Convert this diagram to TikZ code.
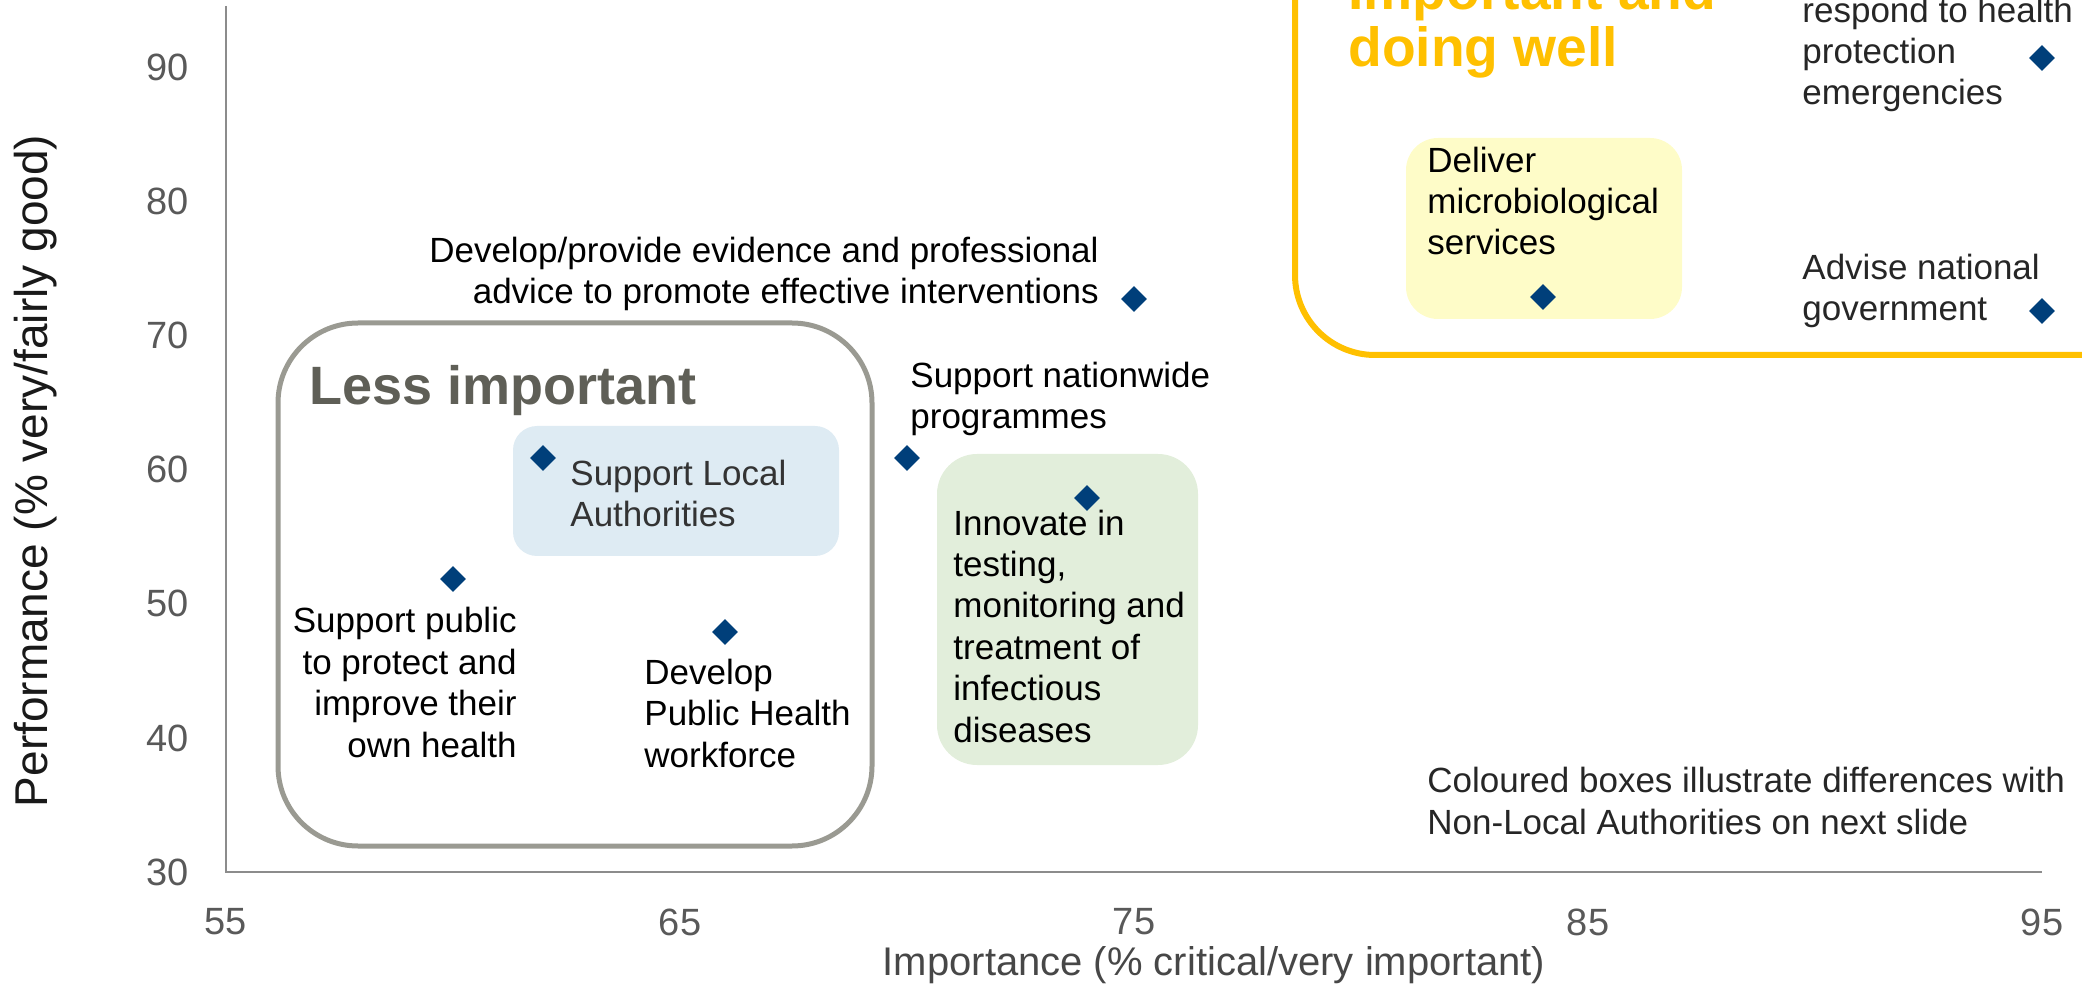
\documentclass[tikz,border=0pt]{standalone}
\usepackage{fontspec}
\setmainfont{Liberation Sans}
\usetikzlibrary{shapes.geometric}
\definecolor{navy}{HTML}{003F7A}
\definecolor{boxgrey}{HTML}{9A9A92}
\definecolor{lessgrey}{HTML}{5F5F57}
\definecolor{gold}{HTML}{FFC000}
\definecolor{blueFill}{HTML}{DEEBF3}
\definecolor{greenFill}{HTML}{E2EEDB}
\definecolor{yellowFill}{HTML}{FEFCC8}
\definecolor{axisgrey}{HTML}{8C8C8C}
\definecolor{ticktext}{HTML}{595959}
\begin{document}
\begin{tikzpicture}[x=0.5pt,y=-0.5pt,
  pt/.style={diamond,fill=navy,draw=none,minimum width=13pt,minimum height=13pt,inner sep=0pt},
  lab/.style={inner sep=0pt,text=black,font=\fontsize{17.5}{20.7}\selectfont},
  tick/.style={inner sep=0pt,text=ticktext,font=\fontsize{19}{22}\selectfont},
  bigbold/.style={inner sep=0pt,font=\fontsize{27}{28}\selectfont\bfseries}]
\useasboundingbox (0,0) rectangle (2082,988);
\begin{scope}
\clip (0,0) rectangle (2082,988);
% boxes
\draw[boxgrey,line width=2.5pt,rounded corners=40pt] (278,323) rectangle (872,846);
\fill[blueFill,rounded corners=12pt] (513,426) rectangle (839,556);
\fill[greenFill,rounded corners=20pt] (937,454) rectangle (1198,765);
\draw[gold,line width=3pt,rounded corners=40pt] (1295,-200) rectangle (2260,355);
\fill[yellowFill,rounded corners=16pt] (1406,138) rectangle (1682,319);
% box titles
\node[bigbold,text=lessgrey,anchor=base west] (less) at (309,405) {Less important};
\node[bigbold,text=gold,anchor=base west,font=\fontsize{27.6}{28}\selectfont\bfseries] (imp) at (1348,10) {Important and};
\node[bigbold,text=gold,anchor=base west,font=\fontsize{27.6}{28}\selectfont\bfseries] (well) at (1348,67) {doing well};
% axes
\draw[axisgrey,line width=1pt] (226,6) -- (226,872) -- (2042,872);
% y tick labels
\node[tick,anchor=east] (y30) at (189,872) {30};
\node[tick,anchor=east] (y40) at (189,738) {40};
\node[tick,anchor=east] (y50) at (189,603) {50};
\node[tick,anchor=east] (y60) at (189,469) {60};
\node[tick,anchor=east] (y70) at (189,335) {70};
\node[tick,anchor=east] (y80) at (189,201) {80};
\node[tick,anchor=east] (y90) at (189,67) {90};
% x tick labels
\node[tick] (x55) at (226,922) {55};
\node[tick] (x65) at (680,922) {65};
\node[tick] (x75) at (1134,922) {75};
\node[tick] (x85) at (1588,922) {85};
\node[tick] (x95) at (2042,922) {95};
% axis titles
\node[inner sep=0pt,text=ticktext!80!black,font=\fontsize{20}{24}\selectfont] (xtitle) at (1214,965) {Importance (\% critical/very important)};
\node[inner sep=0pt,text=black!90,rotate=90,font=\fontsize{23}{26}\selectfont] (ytitle) at (36,471) {Performance (\% very/fairly good)};
% data points
\node[pt] (p1) at (2042,58) {};
\node[pt] (p2) at (2042,311) {};
\node[pt] (p3) at (1543,297) {};
\node[pt] (p4) at (1134,299) {};
\node[pt] (p5) at (907,458) {};
\node[pt] (p7) at (543,458) {};
\node[pt] (p8) at (453,579) {};
\node[pt] (p9) at (725,632) {};
% labels (anchor = baseline of last line)
\node[lab,anchor=base east,align=right] (l4) at (1099,304) {Develop/provide evidence and professional\\advice to promote effective interventions};
\node[lab,anchor=base west,align=left] (l5) at (910,429) {Support nationwide\\programmes};
\node[lab,anchor=base west,align=left] (l6) at (953,742) {Innovate in\\testing,\\monitoring and\\treatment of\\infectious\\diseases};
\node[pt] (p6) at (1087,498) {};
\node[lab,anchor=base west,align=left,text=black!80] (l7) at (570,527) {Support Local\\Authorities};
\node[lab,anchor=base east,align=right] (l8) at (517,757) {Support public\\to protect and\\improve their\\own health};
\node[lab,anchor=base west,align=left] (l9) at (644,767) {Develop\\Public Health\\workforce};
\node[lab,anchor=base west,align=left] (l3) at (1427,255) {Deliver\\microbiological\\services};
\node[lab,anchor=base west,align=left,text=black!85] (l1) at (1802,105) {respond to health\\protection\\emergencies};
\node[lab,anchor=base west,align=left,text=black!85] (l2) at (1802,321) {Advise national\\government};
\node[lab,anchor=base west,align=left,text=black!85] (note) at (1427,834) {Coloured boxes illustrate differences with\\Non-Local Authorities on next slide};
\end{scope}
\end{tikzpicture}
\end{document}
